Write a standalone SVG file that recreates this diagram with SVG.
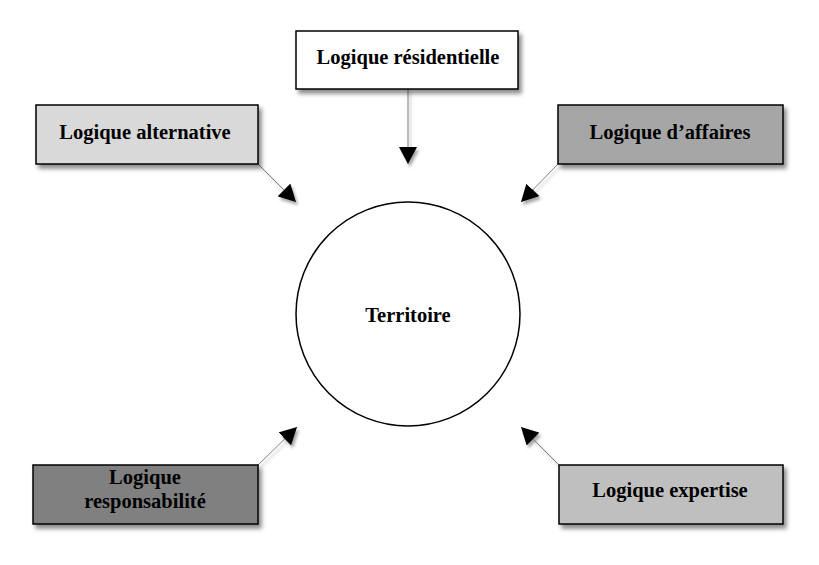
<svg xmlns="http://www.w3.org/2000/svg" width="819" height="565" viewBox="0 0 819 565">
<style>
.box{stroke:#000;stroke-width:1.5;filter:url(#sh)}
.lbl{font-family:"Liberation Serif","Times New Roman",serif;font-weight:bold;font-size:20.5px;text-anchor:middle;fill:#000}
.con{stroke:#808080;stroke-width:1;fill:none;marker-end:url(#ah)}
</style>
<defs>
<filter id="sh" x="-20%" y="-20%" width="140%" height="160%">
<feDropShadow dx="3" dy="4" stdDeviation="2" flood-color="#000" flood-opacity="0.45"/>
</filter>
<filter id="ash" filterUnits="userSpaceOnUse" x="0" y="0" width="819" height="565">
<feDropShadow dx="2" dy="3" stdDeviation="1.5" flood-color="#000" flood-opacity="0.35"/>
</filter>
<marker id="ah" markerUnits="userSpaceOnUse" markerWidth="18" markerHeight="18" refX="17" refY="9" orient="auto" viewBox="0 0 18 18">
<path d="M0,0 L17,9 L0,18 Z" fill="#000"/>
</marker>
</defs>
<g id="connectors" filter="url(#ash)">
<line class="con" x1="408" y1="89" x2="408" y2="164"/>
<line class="con" x1="258" y1="164" x2="296" y2="202"/>
<line class="con" x1="558" y1="164" x2="521" y2="202"/>
<line class="con" x1="258" y1="465" x2="297" y2="427"/>
<line class="con" x1="559" y1="465" x2="521" y2="427"/>
</g>
<g id="territoire">
<circle cx="408" cy="314" r="112" fill="#fff" stroke="#000" stroke-width="1.5"/>
<text class="lbl" x="408" y="322">Territoire</text>
</g>
<g id="residentielle">
<rect class="box" x="296" y="31" width="222" height="58" fill="#fff"/>
<text class="lbl" x="408" y="64">Logique résidentielle</text>
</g>
<g id="alternative">
<rect class="box" x="36" y="105" width="222" height="59" fill="#d9d9d9"/>
<text class="lbl" x="145" y="139">Logique alternative</text>
</g>
<g id="affaires">
<rect class="box" x="558" y="105" width="225" height="59" fill="#a6a6a6"/>
<text class="lbl" x="670" y="139">Logique d’affaires</text>
</g>
<g id="responsabilite">
<rect class="box" x="33" y="465" width="225" height="59" fill="#808080"/>
<text class="lbl" x="145" y="484">Logique</text>
<text class="lbl" x="145" y="508">responsabilité</text>
</g>
<g id="expertise">
<rect class="box" x="559" y="465" width="224" height="59" fill="#bfbfbf"/>
<text class="lbl" x="670" y="497">Logique expertise</text>
</g>
</svg>
